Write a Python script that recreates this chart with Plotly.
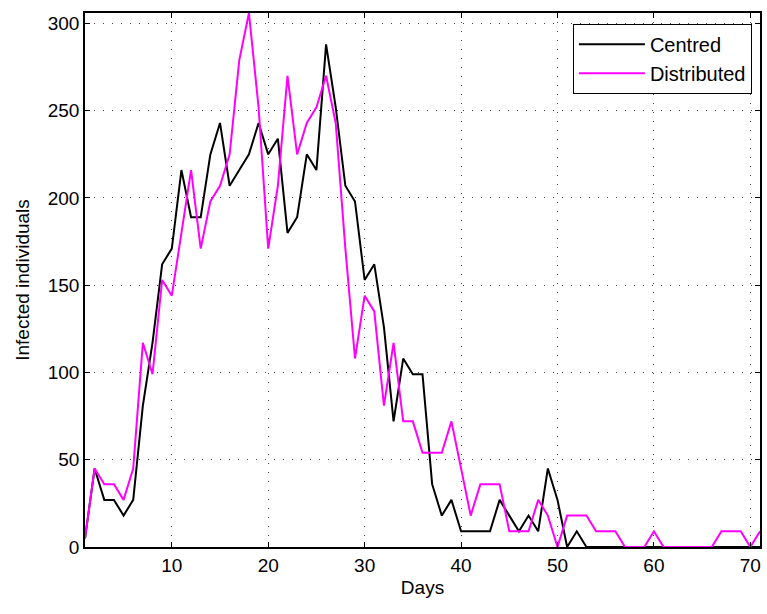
import plotly.graph_objects as go

days = list(range(1, 72))
centred = [5, 45, 27, 27, 18, 27, 81, 117, 162, 171,
           216, 189, 189, 225, 243, 207, 216, 225, 243, 225,
           234, 180, 189, 225, 216, 288, 252, 207, 198, 153,
           162, 126, 72, 108, 99, 99, 36, 18, 27, 9,
           9, 9, 9, 27, 18, 9, 18, 9, 45, 27,
           0, 9, 0, 0, 0, 0, 0, 0, 0, 0,
           0, 0, 0, 0, 0, 0, 0, 0, 0, 0, 0]
distributed = [5, 45, 36, 36, 27, 45, 117, 99, 153, 144,
               180, 216, 171, 198, 207, 225, 279, 306, 252, 171,
               207, 270, 225, 243, 252, 270, 243, 171, 108, 144,
               135, 81, 117, 72, 72, 54, 54, 54, 72, 45,
               18, 36, 36, 36, 9, 9, 9, 27, 18, 0,
               18, 18, 18, 9, 9, 9, 0, 0, 0, 9,
               0, 0, 0, 0, 0, 0, 9, 9, 9, 0, 9]

x_ticks = [10, 20, 30, 40, 50, 60, 70]
y_ticks = [0, 50, 100, 150, 200, 250, 300]

font = "Liberation Sans, Arial, Helvetica, sans-serif"

fig = go.Figure()
fig.add_trace(go.Scatter(x=days, y=centred, mode="lines", name="Centred",
                         line=dict(color="black", width=2)))
fig.add_trace(go.Scatter(x=days, y=distributed, mode="lines", name="Distributed",
                         line=dict(color="#ff00ff", width=2)))

axis_common = dict(
    showline=True, linecolor="black", linewidth=1.5, mirror="ticks",
    ticks="inside", ticklen=5, tickcolor="black", tickwidth=1,
    showgrid=True, gridcolor="#444444", gridwidth=1, griddash="1px,8px",
    zeroline=False, tickfont=dict(family=font, size=19, color="black"),
)

fig.update_layout(
    width=767, height=614,
    margin=dict(l=85, r=5, t=13, b=67),
    paper_bgcolor="white", plot_bgcolor="white",
    font=dict(family=font, size=19, color="black"),
    xaxis=dict(range=[1, 71], tickvals=x_ticks,
               title=dict(text="Days", font=dict(family=font, size=19), standoff=6),
               **axis_common),
    yaxis=dict(range=[0, 306], tickvals=y_ticks,
               title=dict(text="Infected individuals", font=dict(family=font, size=19), standoff=13),
               **axis_common),
    legend=dict(x=0.988, y=0.98, xanchor="right", yanchor="top",
                bgcolor="white", bordercolor="black", borderwidth=1,
                font=dict(family=font, size=20, color="black"),
                tracegroupgap=0, itemwidth=66),
    showlegend=True,
)

fig.write_html("out.html")
